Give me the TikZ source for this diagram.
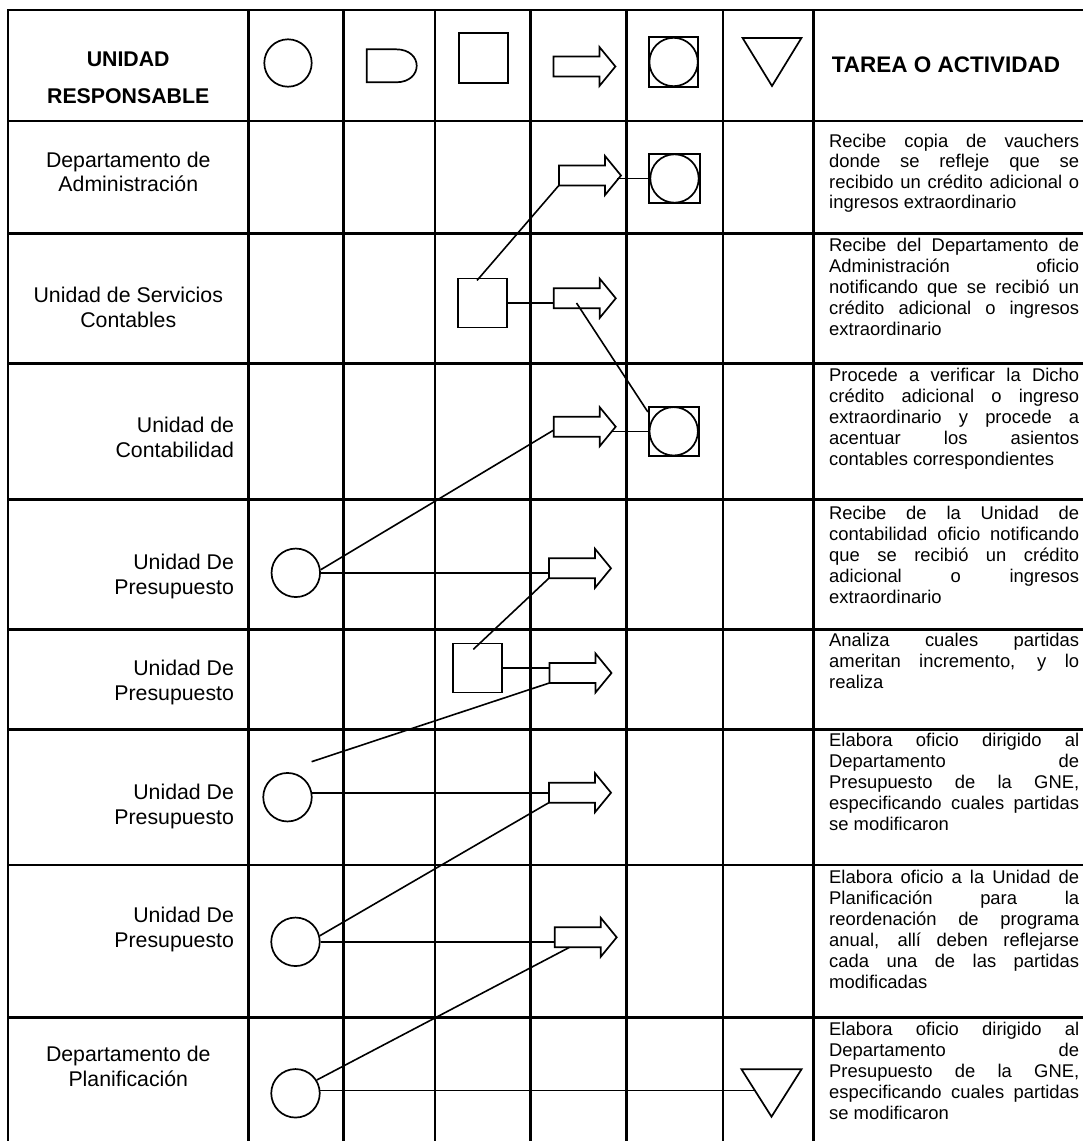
\documentclass[tikz,border=0pt]{standalone}
\usepackage{fontspec}
\setmainfont{Liberation Sans}
\tikzset{
  gridline/.style={line width=2.6pt, line cap=rect},
  shp/.style={draw, line width=1.7pt},
  conn/.style={line width=1.6pt},
  lbl/.style={font=\fontsize{21.3}{24}\selectfont, inner sep=0},
  hdr/.style={font=\fontsize{21.3}{24}\selectfont\bfseries, inner sep=0},
  hdrb/.style={font=\fontsize{22.5}{26}\selectfont\bfseries, inner sep=0},
  rtxt/.style={font=\fontsize{18.4}{21}\selectfont, inner sep=0, anchor=base west},
  circ/.style={shp, circle, minimum size=48.5pt, inner sep=0},
  sq/.style={shp, rectangle, minimum width=49pt, minimum height=49pt, inner sep=0},
  sqc/.style={shp, rectangle, minimum width=50pt, minimum height=49pt, inner sep=0,
    path picture={\draw[line width=1.7pt] (path picture bounding box.center) circle (24.2pt);}},
}
\newcommand\fatarrow[3]{%
  \node[inner sep=0, minimum width=62pt, minimum height=39pt] (#1) at (#2,#3) {};
  \draw[shp] ([shift={(-31,-10)}]#1.center) -- ++(46,0) -- ++(0,-9.5) -- ++(16,19.5) -- ++(-16,19.5) -- ++(0,-9.5) -- ++(-46,0) -- cycle;}
\newcommand\jline[3]{\node[rtxt] (#1) at (829,#2) {\makebox[250pt][s]{#3}};}
\newcommand\lline[3]{\node[rtxt] (#1) at (829,#2) {#3};}
\begin{document}
\begin{tikzpicture}[x=1pt,y=-1pt]
\useasboundingbox (0,0) rectangle (1083,1141);
\fill[white] (0,0) rectangle (1083,1141);
% grid
\foreach \yy in {10,121,233.5,363.5,499.3,629.3,729.3,865,1017.7}
  \draw[gridline] (8,\yy) -- (1083,\yy);
\foreach \xx in {8,248.5,343.7,434.8,530.7,626.6,722.8,813.5}
  \draw[gridline] (\xx,10) -- (\xx,1141);

% header texts
\node[hdr, anchor=base] (hu) at (128.2,66.7) {UNIDAD};
\node[hdr, anchor=base] (hr) at (128.2,103.3) {RESPONSABLE};
\node[hdrb, anchor=base] (ht) at (946,72) {TAREA O ACTIVIDAD};

% header legend symbols
\node[circ, minimum size=47.4pt] (h1) at (288,63) {};
\draw[shp] (366.7,49.3) -- (396,49.3) .. controls (423.6,49.3) and (423.6,82.3) .. (396,82.3) -- (366.7,82.3) -- cycle;
\node[sq, minimum height=50pt] (h3) at (483.3,58.3) {};
\fatarrow{h4}{584.4}{66.5}
\node[sqc, minimum width=49pt, minimum height=50pt] (h5) at (673.6,62) {};
\coordinate (h6) at (772,54);
\draw[shp] ([shift={(-29.4,-16)}]h6) -- ++(58.8,0) -- ++(-29.4,48) -- cycle;

% left labels
\node[lbl, anchor=base] (l1a) at (128.3,167.7) {Departamento de};
\node[lbl, anchor=base] (l1b) at (128.3,191.7) {Administración};
\node[lbl, anchor=base] (l2a) at (128.3,302.7) {Unidad de Servicios};
\node[lbl, anchor=base] (l2b) at (128.3,327.3) {Contables};
\node[lbl, anchor=base east] (l3a) at (234.2,432.7) {Unidad de};
\node[lbl, anchor=base east] (l3b) at (234.2,457.3) {Contabilidad};
\node[lbl, anchor=base east] (l4a) at (234.2,569.3) {Unidad De};
\node[lbl, anchor=base east] (l4b) at (234.2,594) {Presupuesto};
\node[lbl, anchor=base east] (l5a) at (234.2,675) {Unidad De};
\node[lbl, anchor=base east] (l5b) at (234.2,700) {Presupuesto};
\node[lbl, anchor=base east] (l6a) at (234.2,799.3) {Unidad De};
\node[lbl, anchor=base east] (l6b) at (234.2,824) {Presupuesto};
\node[lbl, anchor=base east] (l7a) at (234.2,922.7) {Unidad De};
\node[lbl, anchor=base east] (l7b) at (234.2,947.3) {Presupuesto};
\node[lbl, anchor=base] (l8a) at (128.3,1061.7) {Departamento de};
\node[lbl, anchor=base] (l8b) at (128.3,1086.7) {Planificación};

% right texts
\jline{t1a}{147}{Recibe copia de vauchers}
\jline{t1b}{167.5}{donde se refleje que se}
\jline{t1c}{188}{recibido un crédito adicional o}
\lline{t1d}{208.5}{ingresos extraordinario}

\jline{t2a}{251.5}{Recibe del Departamento de}
\jline{t2b}{272.5}{Administración oficio}
\jline{t2c}{293.5}{notificando que se recibió un}
\jline{t2d}{314.5}{crédito adicional o ingresos}
\lline{t2e}{335.5}{extraordinario}

\jline{t3a}{381.5}{Procede a verificar la Dicho}
\jline{t3b}{402.5}{crédito adicional o ingreso}
\jline{t3c}{423.5}{extraordinario y procede a}
\jline{t3d}{444.5}{acentuar los asientos}
\lline{t3e}{465.5}{contables correspondientes}

\jline{t4a}{519}{Recibe de la Unidad de}
\jline{t4b}{540}{contabilidad oficio notificando}
\jline{t4c}{561}{que se recibió un crédito}
\jline{t4d}{582}{adicional o ingresos}
\lline{t4e}{603}{extraordinario}

\jline{t5a}{646.5}{Analiza cuales partidas}
\jline{t5b}{667.5}{ameritan incremento, y lo}
\lline{t5c}{688.5}{realiza}

\jline{t6a}{746.5}{Elabora oficio dirigido al}
\jline{t6b}{767.5}{Departamento de}
\jline{t6c}{788.5}{Presupuesto de la GNE,}
\jline{t6d}{809.5}{especificando cuales partidas}
\lline{t6e}{830.5}{se modificaron}

\jline{t7a}{883}{Elabora oficio a la Unidad de}
\jline{t7b}{904}{Planificación para la}
\jline{t7c}{925}{reordenación de programa}
\jline{t7d}{946}{anual, allí deben reflejarse}
\jline{t7e}{967}{cada una de las partidas}
\lline{t7f}{988}{modificadas}

\jline{t8a}{1035}{Elabora oficio dirigido al}
\jline{t8b}{1056}{Departamento de}
\jline{t8c}{1077}{Presupuesto de la GNE,}
\jline{t8d}{1098}{especificando cuales partidas}
\lline{t8e}{1119}{se modificaron}

% flow shapes
\fatarrow{r1a}{590}{175.5}
\node[sqc, minimum width=51pt] (r1s) at (674.5,178.5) {};
\node[sq] (r2q) at (482.5,303) {};
\fatarrow{r2a}{584.8}{298.3}
\fatarrow{r3a}{584.7}{426.7}
\node[sqc] (r3s) at (673.7,431.3) {};
\node[circ] (r4c) at (295.8,572.8) {};
\fatarrow{r4a}{580}{568.3}
\node[sq] (r5q) at (477.2,668) {};
\fatarrow{r5a}{580.5}{673}
\coordinate (p6) at (311.6,761.7);
\node[circ] (r6c) at (287.5,797.2) {};
\fatarrow{r6a}{580}{792.7}
\node[circ] (r7c) at (295.5,941.8) {};
\fatarrow{r7a}{585.7}{937.3}
\node[circ] (r8c) at (295.5,1093.3) {};
\coordinate (r8t) at (771.5,1085);
\draw[shp] ([shift={(-30,-15.7)}]r8t) -- ++(60,0) -- ++(-30,47.4) -- cycle;
\coordinate (r8tl) at ([shift={(-16.5,5.7)}]r8t);

% connectors
\draw[conn] ([xshift=-5.5pt,yshift=-2.8pt]r2q.north) -- ([yshift=-10pt]r1a.west);
\draw[conn] (r1s.west) -- ([xshift=-4pt]r1a.east |- r1s.west);
\draw[conn] (r2q.east) -- (r2q.east -| r2a.west);
\draw[conn] ([xshift=-8.3pt,yshift=-4.7pt]r2a.center) -- ([yshift=-6pt]r3s.north west);
\draw[conn] (r3s.west) -- ([xshift=-4pt]r3a.east |- r3s.west);
\draw[conn] (r4c.7) -- ([yshift=-3.5pt]r3a.west);
\draw[conn] (r4c.east) -- (r4c.east -| r4a.west);
\draw[conn] ([xshift=-3.9pt,yshift=-6.7pt]r5q.north) -- ([yshift=-10pt]r4a.west);
\draw[conn] (r5q.east) -- (r5q.east -| r5a.west);
\draw[conn] (p6) -- ([yshift=-10pt]r5a.west);
\draw[conn] (r6c.10) -- (r6c.10 -| r6a.west);
\draw[conn] (r7c.14) -- ([yshift=-10pt]r6a.west);
\draw[conn] (r7c.east) -- (r7c.east -| r7a.west);
\draw[conn] (r8c.32) -- ([xshift=15pt,yshift=-10pt]r7a.west);
\draw[conn] (r8c.6) -- (r8c.6 -| r8tl);
\end{tikzpicture}
\end{document}
